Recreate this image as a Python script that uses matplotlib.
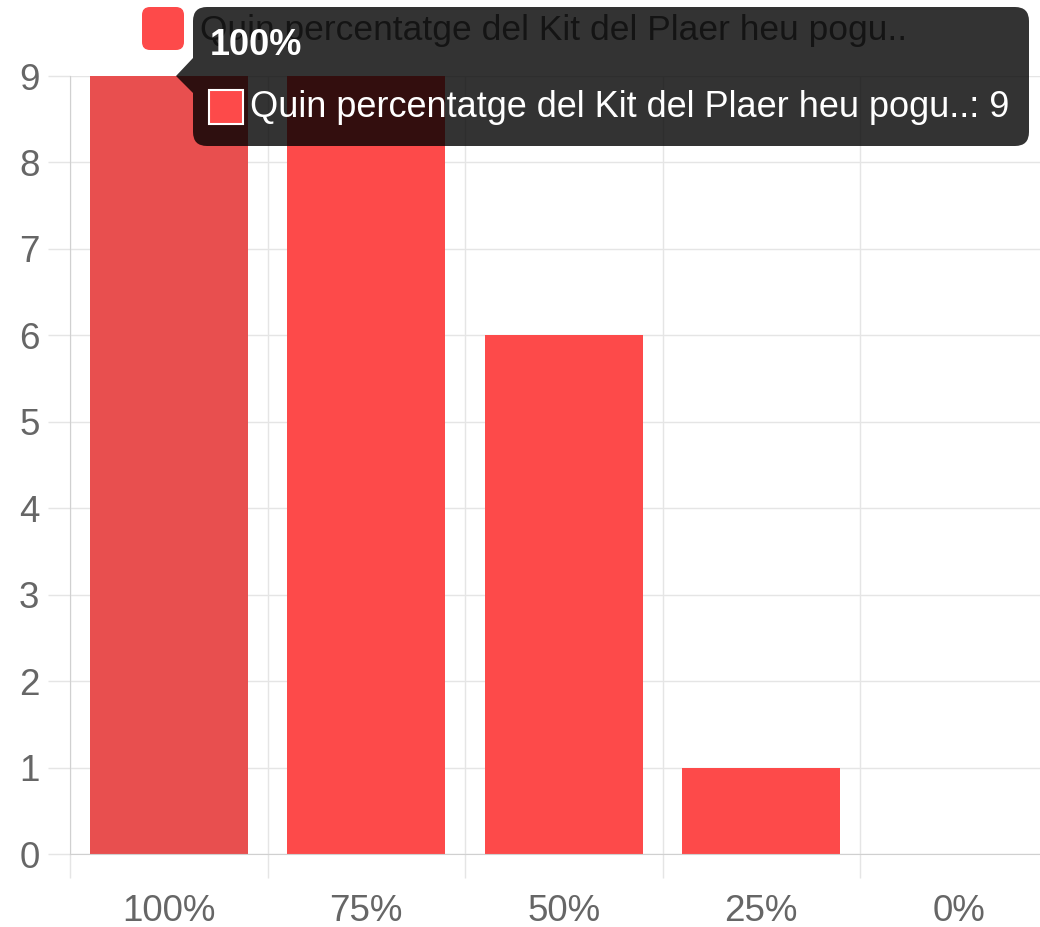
import matplotlib.pyplot as plt
from matplotlib.patches import FancyBboxPatch, Polygon, Rectangle

plt.rcParams['font.family'] = ['Liberation Sans', 'DejaVu Sans']

categories = ['100%', '75%', '50%', '25%', '0%']
counts = [9, 9, 6, 1, 0]
series_name = 'Quin percentatge del Kit del Plaer heu pogu..'
hovered = 0

bar_color = '#fd4a4a'
hover_color = '#e84f4f'
grid_color = '#e5e5e5'
text_color = '#666666'

W, H = 1040, 927
fig = plt.figure(figsize=(W / 100, H / 100), dpi=100)

# plot area (the chart is cropped on the right in the reference)
left, right, top, bottom = 70, 1057.5, 76, 854
ax = fig.add_axes([left / W, 1 - bottom / H, (right - left) / W, (bottom - top) / H])

colors = [hover_color if i == hovered else bar_color for i in range(len(counts))]
ax.bar(range(len(categories)), counts, width=0.8, color=colors, zorder=2)

ax.set_xlim(-0.5, len(categories) - 0.5)
ax.set_ylim(0, 9)
ax.set_yticks(range(0, 10))
ax.set_xticks(range(len(categories)))
ax.set_xticklabels(categories)
ax.set_xticks([i - 0.5 for i in range(len(categories) + 1)], minor=True)

ax.tick_params(axis='x', which='major', length=0, pad=29, labelsize=26.5, labelcolor=text_color)
ax.tick_params(axis='x', which='minor', length=17, width=1, color=grid_color)
ax.tick_params(axis='y', length=16, width=1, color=grid_color, pad=6, labelsize=26.5,
               labelcolor=text_color)

ax.grid(axis='y', color=grid_color, linewidth=1, zorder=0)
ax.grid(axis='x', which='minor', color=grid_color, linewidth=1, zorder=0)
for s in ['top', 'right']:
    ax.spines[s].set_visible(False)
for s in ['left', 'bottom']:
    ax.spines[s].set_color('#d0d0d0')
ax.set_axisbelow(True)

# overlay in pixel coordinates for legend and tooltip
ov = fig.add_axes([0, 0, 1, 1])
ov.set_xlim(0, W)
ov.set_ylim(H, 0)
ov.axis('off')
ov.patch.set_alpha(0)

# legend
ov.add_patch(FancyBboxPatch((145, 10), 36, 37, boxstyle='round,pad=3,rounding_size=8',
                            fc=bar_color, ec='none', zorder=1))
ov.text(200, 30, series_name, fontsize=25.5, color=text_color, va='center', ha='left',
        zorder=2)

# tooltip drawn above the legend
ov.add_patch(FancyBboxPatch((200, 14), 822, 125, boxstyle='round,pad=7,rounding_size=14',
                            fc='black', ec='none', alpha=0.8, zorder=5))
ov.add_patch(Polygon([(193, 58), (176, 76), (193, 93)], closed=True, fc='black',
                     ec='none', alpha=0.8, zorder=5))
ov.text(210, 45, categories[hovered], fontsize=26, color='white', fontweight='bold',
        va='center', ha='left', zorder=6)
ov.add_patch(Rectangle((209, 90), 34, 34, fc=bar_color, ec='white', lw=1.5, zorder=6))
ov.text(250, 107, '{}: {}'.format(series_name, counts[hovered]), fontsize=26,
        color='white', va='center', ha='left', zorder=6)

fig.savefig('out.png', dpi=100)
